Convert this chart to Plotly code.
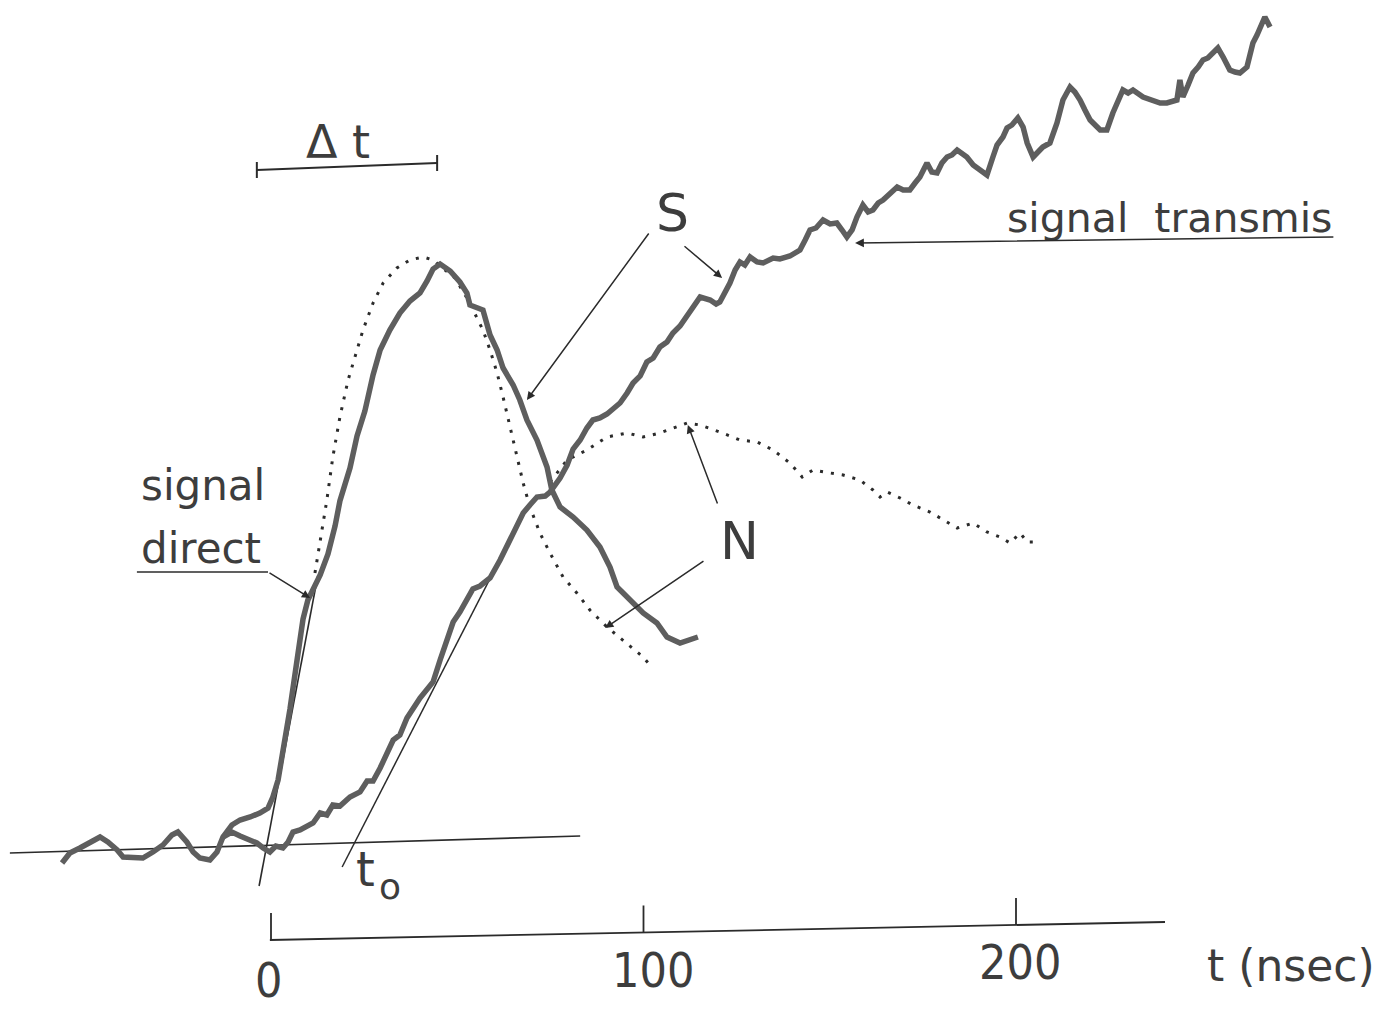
import numpy as np
import plotly.graph_objects as go

# ---------------- data (t in nsec, amplitude in arbitrary units, baseline ~ 0) -------------
direct_t = [-56.1, -54.0, -51.3, -48.6, -45.9, -43.8, -41.3, -39.7, -37.0, -34.4, -31.7, -29.0,
            -26.6, -25.0, -22.6, -20.9, -19.1, -16.4, -14.5, -12.9, -10.5, -8.3, -5.6, -3.0, -0.8,
            0.5, 1.9, 3.2, 5.1, 7.0, 8.6, 9.9, 11.0, 13.2, 15.3, 17.2, 18.5, 19.9, 21.2, 23.1, 25.2,
            27.4, 29.3, 31.9, 34.6, 37.3, 40.0, 41.9, 43.5, 45.4, 48.1, 50.7, 52.6, 53.4, 55.3, 56.9,
            58.8, 60.7, 62.3, 65.0, 66.8, 68.7, 71.4, 74.1, 75.4, 77.6, 81.1, 84.8, 88.3, 91.0, 92.9,
            96.4, 99.9, 103.6, 106.3, 109.8, 112.5, 114.6]
direct_a = [-11, -1, 4, 10, 15, 10, 2, -5, -6, -6, 0, 7,
            17, 20, 10, 0, -6, -8, 0, 15, 27, 32, 35, 39, 44,
            55, 72, 100, 143, 192, 233, 252, 261, 277, 298, 326, 351, 367, 384, 416, 441,
            477, 502, 522, 539, 551, 559, 571, 583, 588, 581, 570, 559, 547, 544, 542,
            517, 502, 484, 467, 452, 432, 412, 385, 362, 345, 335, 322, 305, 285, 265,
            252, 239, 229, 215, 209, 212, 215]

trans_t = [-12.9, -10.5, -8.3, -5.6, -3.8, -2.1, -0.3, 1.3, 3.2, 4.6, 5.9, 7.8, 9.7, 11.3, 13.2,
           15.0, 16.6, 18.5, 21.2, 23.9, 25.8, 27.4, 29.3, 32.8, 34.6, 36.5, 40.0, 43.5, 45.4,
           47.2, 48.9, 50.7, 54.2, 56.1, 58.8, 61.5, 63.4, 65.5, 67.7, 69.5, 71.4, 73.6, 74.9,
           77.6, 79.5, 81.1, 83.0, 84.8, 86.4, 88.3, 90.2, 91.8, 93.7, 95.6, 97.2, 99.1, 100.9,
           102.6, 104.4, 106.3, 107.9, 109.8, 111.7, 113.3, 115.2, 117.9, 119.5, 120.5, 121.9,
           123.2, 124.6, 125.9, 127.2, 128.6, 130.5, 132.1, 134.8, 136.6, 139.3, 142.0, 143.4,
           144.7, 146.3, 148.2, 150.1, 151.9, 153.3, 154.6, 156.0, 157.3, 158.9, 160.3, 161.6,
           163.0, 164.3, 166.2, 168.1, 169.7, 171.5, 172.9, 174.2, 176.1, 177.4, 178.8, 180.1,
           181.5, 182.8, 184.2, 185.5, 186.8, 188.5, 190.3, 192.2, 193.8, 194.9, 196.5, 197.6,
           198.9, 200.5, 201.9, 203.0, 204.6, 205.9, 207.2, 209.1, 211.0, 212.6, 214.5, 215.8,
           217.2, 218.5, 219.9, 222.6, 224.4, 226.0, 227.4, 228.7, 230.1, 231.4, 234.1, 236.8,
           238.7, 240.5, 242.1, 243.2, 244.0, 244.8, 246.2, 247.5, 248.9, 250.2, 251.5, 252.9,
           254.2, 255.6, 257.4, 258.8, 260.1, 262.0, 263.6, 264.7, 265.5, 266.8, 268.2]
trans_a = [15, 20, 16, 12, 9, 4, 0, 6, 4, 10, 20, 22, 26, 29, 39,
           37, 47, 46, 55, 60, 71, 71, 84, 112, 117, 134, 154, 170, 192,
           210, 230, 240, 263, 266, 274, 292, 307, 322, 339, 347, 355, 356, 360,
           374, 387, 403, 412, 424, 432, 434, 438, 443, 449, 459, 469, 476, 490,
           494, 505, 510, 519, 526, 536, 545, 555, 552, 548, 550, 560,
           569, 582, 590, 587, 595, 590, 589, 594, 593, 596, 602, 612,
           622, 624, 632, 628, 629, 622, 615, 622, 635, 647, 640, 642,
           649, 652, 659, 665, 662, 662, 669, 675, 689, 680, 679, 689,
           695, 697, 702, 699, 695, 687, 682, 677, 695, 707, 715, 724,
           727, 734, 725, 709, 695, 700, 705, 709, 729, 752, 765, 760,
           752, 742, 732, 722, 722, 739, 752, 762, 759, 762, 755, 752,
           749, 749, 750, 752, 772, 755, 767, 779, 785, 792, 794, 799,
           804, 795, 782, 780, 779, 785, 809, 817, 825, 835, 825]

ideal_t = [11.8, 13.2, 15.0, 16.6, 18.5, 20.7, 22.6, 24.7, 27.4, 30.1, 33.8, 37.3, 40.8, 43.5,
           45.4, 49.4, 52.9, 55.0, 56.9, 58.8, 60.7, 62.3, 64.2, 66.0, 67.7, 69.5, 72.2, 74.9,
           78.4, 82.1, 85.6, 90.2, 94.5, 99.9, 101.7]
ideal_a = [279, 312, 352, 395, 435, 472, 495, 522, 549, 569, 584, 592, 595, 592,
           586, 574, 552, 537, 522, 502, 479, 455, 425, 395, 369, 345, 319, 299,
           275, 259, 242, 225, 212, 195, 187]

noise_t = [74.9, 79.5, 84.8, 90.2, 95.6, 99.9, 104.4, 109.0, 111.7, 115.2, 120.5, 125.9, 130.5,
           134.8, 139.3, 142.6, 145.5, 150.1, 153.6, 158.1, 161.6, 163.5, 165.4, 168.9, 172.3,
           176.9, 180.4, 184.2, 188.5, 192.2, 195.7, 198.4, 201.1, 203.0, 205.6]
noise_a = [370, 392, 402, 415, 419, 415, 419, 425, 429, 427, 420, 412, 410,
           402, 389, 375, 382, 379, 377, 372, 362, 355, 360, 354, 347,
           340, 332, 324, 329, 320, 315, 309, 319, 310, 310]

# construction lines (end points, t / amplitude)
tangent_direct_t = [-3.2, 12.6]
tangent_direct_a = [-34, 277]
tangent_trans_t = [19.1, 65.5]
tangent_trans_a = [-15, 322]
baseline_t = [-70.1, 83.0]
baseline_a = [-1, 16]
delta_t_span = [-3.8, 44.6]

# time axis
axis_t = [-0.3, 240.0]
tick_vals = [0, 100, 200]
tick_text = ["0", "100", "200"]
axis_title = "t (nsec)"

# ---------------- styling / layout ----------------
X_RANGE = [-72.75, 302.28]
Y_RANGE = [-160, 852]
AXIS_Y = [-88, -70]          # slight skew of the drawn axis
TICK_LEN = 27
TICK_LABEL_Y = [-128, -118, -110]
TICK_LABEL_DX = [-0.8, 2.6, 1.1]

CURVE = "#5e5e5e"
INK = "#2b2b2b"
TEXT = "#3d3d3d"
FONT_TXT = "DejaVu Sans, Liberation Sans, sans-serif"
FONT_NUM = "Liberation Sans Narrow, DejaVu Sans Condensed, Liberation Sans, sans-serif"

fig = go.Figure()

def thin(xs, ys, w=1.5):
    fig.add_trace(go.Scatter(x=xs, y=ys, mode="lines", line=dict(color=INK, width=w),
                             hoverinfo="skip", showlegend=False))

# construction lines
thin(baseline_t, baseline_a, 1.6)
thin(tangent_direct_t, tangent_direct_a, 1.6)
thin(tangent_trans_t, tangent_trans_a, 1.5)

# dotted curves
for xs, ys in [(ideal_t, ideal_a), (noise_t, noise_a)]:
    fig.add_trace(go.Scatter(x=xs, y=ys, mode="lines",
                             line=dict(color=INK, width=3, dash="3px,8px"),
                             hoverinfo="skip", showlegend=False))

# measured curves
for xs, ys in [(direct_t, direct_a), (trans_t, trans_a)]:
    fig.add_trace(go.Scatter(x=xs, y=ys, mode="lines",
                             line=dict(color=CURVE, width=5.5),
                             hoverinfo="skip", showlegend=False))

# time axis line and ticks (drawn to follow the skewed axis)
thin(axis_t, AXIS_Y, 1.8)
tx, ty = [], []
for v in tick_vals:
    y0 = float(np.interp(v, axis_t, AXIS_Y))
    tx += [v, v, None]
    ty += [y0, y0 + TICK_LEN, None]
thin(tx, ty, 1.8)

# delta-t bar with end caps
dx, dy = [], []
dx += [delta_t_span[0], delta_t_span[1], None]
dy += [682, 689, None]
for v, yy in zip(delta_t_span, [682, 689]):
    dx += [v, v, None]
    dy += [yy - 8, yy + 8, None]
thin(dx, dy, 2.0)

# "signal direct" leader line
thin([-36.0, -0.8], [280, 280], 1.6)

annotations = []

def label(x, y, text, size, font=FONT_TXT, xanchor="center"):
    annotations.append(dict(x=x, y=y, xref="x", yref="y", text=text, showarrow=False,
                            font=dict(family=font, size=size, color=TEXT),
                            xanchor=xanchor, yanchor="middle"))

def arrow(tail, head, w=1.5):
    annotations.append(dict(x=head[0], y=head[1], ax=tail[0], ay=tail[1],
                            xref="x", yref="y", axref="x", ayref="y", text="",
                            showarrow=True, arrowhead=2, arrowsize=1.1, arrowwidth=w,
                            arrowcolor=INK, standoff=0, startstandoff=0))

# tick labels
for v, t, yy, d in zip(tick_vals, tick_text, TICK_LABEL_Y, TICK_LABEL_DX):
    label(v + d, yy, t, 48, FONT_NUM)
label(273.8, -113, axis_title, 44, FONT_TXT)

# text labels
label(18.0, 710, "Δ t", 46)
label(107.7, 639, "S", 52)
label(125.9, 311, "N", 52)
label(241.1, 634, "signal  transmis", 41)
label(-18.3, 367, "signal", 42)
label(-18.8, 304, "direct", 42)
label(25.5, -17, "t", 48)
label(31.9, -34, "o", 36)

# arrows
arrow((101.7, 620), (68.7, 452))
arrow((110.6, 607), (121.1, 574))
arrow((120.0, 347), (111.9, 427))
arrow((116.5, 292), (89.7, 224))
arrow((285.6, 615), (156.8, 609), 1.6)
arrow((-0.8, 280), (10.5, 254))

fig.update_layout(
    width=1397, height=1012, autosize=False,
    margin=dict(l=0, r=0, t=0, b=0),
    paper_bgcolor="white", plot_bgcolor="white",
    xaxis=dict(range=X_RANGE, visible=False, fixedrange=True),
    yaxis=dict(range=Y_RANGE, visible=False, fixedrange=True),
    annotations=annotations,
    showlegend=False,
)

fig.write_html("out.html", include_plotlyjs=True,
               config={"displayModeBar": False, "staticPlot": True},
               post_script="document.body.style.margin='0px';")
